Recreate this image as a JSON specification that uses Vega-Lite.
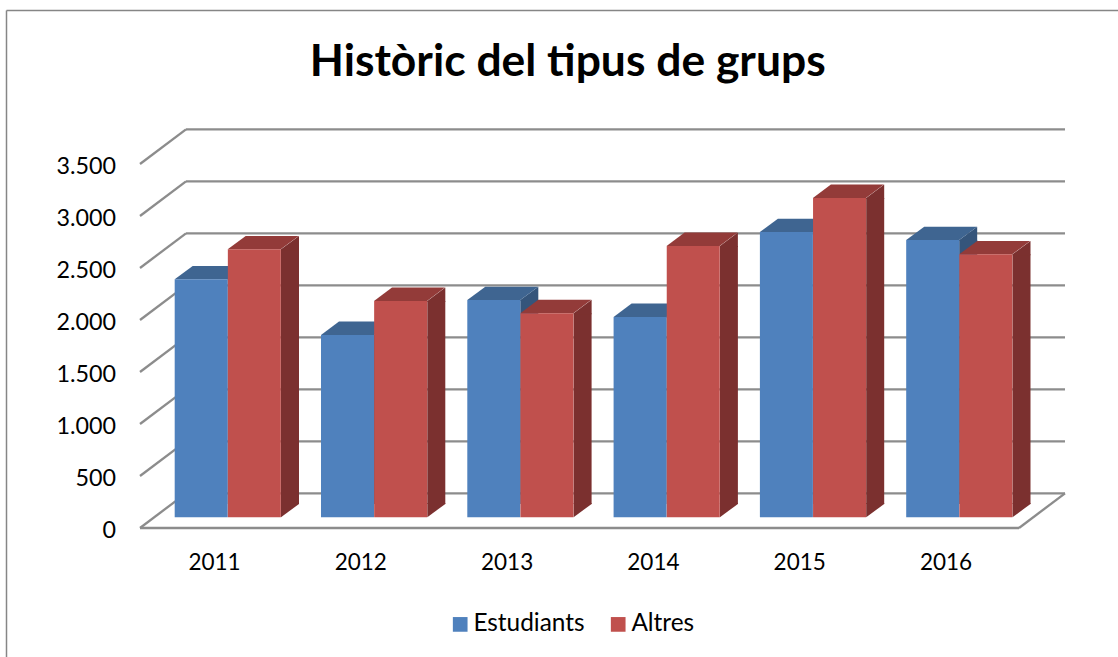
{
"$schema":"https://vega.github.io/schema/vega-lite/v6.json",
"width":1111.5,"height":646.5,
"autosize":{"type":"none"},
"padding":{"left":6.5,"top":10.5,"right":0,"bottom":0},
"background":"white",
"config":{"view":{"stroke":null},"font":"Lato"},
"title":{"text":"Històric del tipus de grups","font":"Lato","fontSize":44.4,"fontWeight":"bold","color":"#000000","anchor":"middle","baseline":"alphabetic","offset":-65,"dx":5.5,"dy":46},
"datasets":{
"bars":[
{"year":2011,"series":"Estudiants","value":2288},{"year":2011,"series":"Altres","value":2577},
{"year":2012,"series":"Estudiants","value":1753},{"year":2012,"series":"Altres","value":2080},
{"year":2013,"series":"Estudiants","value":2089},{"year":2013,"series":"Altres","value":1962},
{"year":2014,"series":"Estudiants","value":1926},{"year":2014,"series":"Altres","value":2609},
{"year":2015,"series":"Estudiants","value":2743},{"year":2015,"series":"Altres","value":3070},
{"year":2016,"series":"Estudiants","value":2666},{"year":2016,"series":"Altres","value":2529}],
"grid":[{"v":0},{"v":500},{"v":1000},{"v":1500},{"v":2000},{"v":2500},{"v":3000},{"v":3500}]
},
"data":{"name":"bars"},
"layer":[
{"data":{"name":"grid"},"mark":{"type":"rule","stroke":"#8c8c8c","strokeWidth":2.3,"yOffset":-34.7},
 "encoding":{
  "x":{"datum":2010.8086,"type":"quantitative","scale":{"domain":[2009.5817,2017.1791],"nice":false,"zero":false,"padding":0},
   "axis":{"title":null,"values":[2011,2012,2013,2014,2015,2016],"format":"d","ticks":false,"domain":false,"grid":false,"labelFontSize":22.5,"labelColor":"#000000","labelPadding":0,"offset":-106,"labelFont":"Lato"}},
  "x2":{"datum":2016.8168},
  "y":{"field":"v","type":"quantitative","scale":{"domain":[-1240.4,4975.96],"nice":false,"zero":false,"padding":0},
   "axis":{"title":null,"values":[0,500,1000,1500,2000,2500,3000,3500],"labelExpr":"replace(format(datum.value,','),',','.')","ticks":false,"domain":false,"grid":false,"labelFontSize":23.3,"labelColor":"#000000","labelPadding":0,"labelOffset":2.5,"offset":-109,"labelFont":"Lato"}}}},
{"data":{"name":"grid"},"mark":{"type":"rule","stroke":"#8c8c8c","strokeWidth":2.3,"y2Offset":-34.7},
 "encoding":{"x":{"datum":2010.4942,"type":"quantitative"},"x2":{"datum":2010.8086},"y":{"field":"v","type":"quantitative"},"y2":{"field":"v"}}},
{"data":{"name":"grid"},"transform":[{"filter":"datum.v===0"}],"mark":{"type":"rule","stroke":"#8c8c8c","strokeWidth":2.3},
 "encoding":{"x":{"datum":2010.4942,"type":"quantitative"},"x2":{"datum":2016.5025},"y":{"field":"v","type":"quantitative"}}},
{"data":{"name":"grid"},"transform":[{"filter":"datum.v===0"}],"mark":{"type":"rule","stroke":"#8c8c8c","strokeWidth":2.3,"y2Offset":-34.7},
 "encoding":{"x":{"datum":2016.5025,"type":"quantitative"},"x2":{"datum":2016.8168},"y":{"field":"v","type":"quantitative"},"y2":{"field":"v"}}},
{"data":{"name":"grid"},"transform":[{"filter":"datum.v===0"}],"mark":{"type":"rule","stroke":"#868686","strokeWidth":1.5},
 "encoding":{"x":{"datum":2009.5817,"type":"quantitative"}}},
{"data":{"name":"grid"},"transform":[{"filter":"datum.v===0"}],"mark":{"type":"rule","stroke":"#868686","strokeWidth":1.5},
 "encoding":{"y":{"datum":4975.96,"type":"quantitative"}}},

{"transform":[{"filter":"datum.series==='Estudiants'"}],"mark":{"type":"bar","width":18,"xOffset":22.7,"yOffset":-10.7,"y2Offset":-24.1,"color":"#35557B"},
 "encoding":{"x":{"field":"year","type":"quantitative"},"y":{"field":"value","type":"quantitative","stack":null},"y2":{"datum":0}}},
{"transform":[{"filter":"datum.series==='Estudiants'"}],"mark":{"type":"point","shape":"M0,0 L18,-13.4 L18,1 L0,1 Z","size":4,"filled":true,"opacity":1,"strokeWidth":0,"color":"#35557B","xOffset":13.7,"yOffset":-10.7},
 "encoding":{"x":{"field":"year","type":"quantitative"},"y":{"field":"value","type":"quantitative"}}},
{"transform":[{"filter":"datum.series==='Estudiants'"}],"mark":{"type":"point","shape":"M0,0 L53,0 L71,-13.4 L18,-13.4 Z","size":4,"filled":true,"opacity":1,"strokeWidth":0,"color":"#3F6591","xOffset":-39.3,"yOffset":-10.7},
 "encoding":{"x":{"field":"year","type":"quantitative"},"y":{"field":"value","type":"quantitative"}}},
{"transform":[{"filter":"datum.series==='Estudiants'"}],"mark":{"type":"bar","width":53,"xOffset":-12.8,"yOffset":-10.7,"y2Offset":-10.7},
 "encoding":{"x":{"field":"year","type":"quantitative"},"y":{"field":"value","type":"quantitative","stack":null},"y2":{"datum":0},
  "color":{"field":"series","type":"nominal","scale":{"domain":["Estudiants","Altres"],"range":["#4F81BD","#C0504D"]},
   "legend":{"title":null,"orient":"none","direction":"horizontal","legendX":441.5,"legendY":601.5,"symbolType":"square","symbolSize":216,"symbolStrokeWidth":0,"labelFontSize":24.4,"labelFont":"Lato","labelColor":"#000000","labelOffset":1,"columnPadding":21,"padding":0}}}},

{"transform":[{"filter":"datum.series==='Altres'"}],"mark":{"type":"bar","width":18,"xOffset":76,"yOffset":-10.7,"y2Offset":-24.1,"color":"#7B302F"},
 "encoding":{"x":{"field":"year","type":"quantitative"},"y":{"field":"value","type":"quantitative","stack":null},"y2":{"datum":0}}},
{"transform":[{"filter":"datum.series==='Altres'"}],"mark":{"type":"point","shape":"M0,0 L18,-13.4 L18,1 L0,1 Z","size":4,"filled":true,"opacity":1,"strokeWidth":0,"color":"#7B302F","xOffset":67,"yOffset":-10.7},
 "encoding":{"x":{"field":"year","type":"quantitative"},"y":{"field":"value","type":"quantitative"}}},
{"transform":[{"filter":"datum.series==='Altres'"}],"mark":{"type":"point","shape":"M0,0 L0,-14.4 L18,-14.4 L18,-13.4 Z","size":4,"filled":true,"opacity":1,"strokeWidth":0,"color":"#7B302F","xOffset":67,"yOffset":-10.7},
 "encoding":{"x":{"field":"year","type":"quantitative"},"y":{"datum":0,"type":"quantitative"}}},
{"transform":[{"filter":"datum.series==='Altres'"}],"mark":{"type":"point","shape":"M0,0 L53,0 L71,-13.4 L18,-13.4 Z","size":4,"filled":true,"opacity":1,"strokeWidth":0,"color":"#933B39","xOffset":13.7,"yOffset":-10.7},
 "encoding":{"x":{"field":"year","type":"quantitative"},"y":{"field":"value","type":"quantitative"}}},
{"transform":[{"filter":"datum.series==='Altres'"}],"mark":{"type":"bar","width":53,"xOffset":40.35,"yOffset":-10.7,"y2Offset":-10.7},
 "encoding":{"x":{"field":"year","type":"quantitative"},"y":{"field":"value","type":"quantitative","stack":null},"y2":{"datum":0},
  "color":{"field":"series","type":"nominal","scale":{"domain":["Estudiants","Altres"],"range":["#4F81BD","#C0504D"]},
   "legend":{"title":null,"orient":"none","direction":"horizontal","legendX":441.5,"legendY":601.5,"symbolType":"square","symbolSize":216,"symbolStrokeWidth":0,"labelFontSize":24.4,"labelFont":"Lato","labelColor":"#000000","labelOffset":1,"columnPadding":21,"padding":0}}}}
]
}
